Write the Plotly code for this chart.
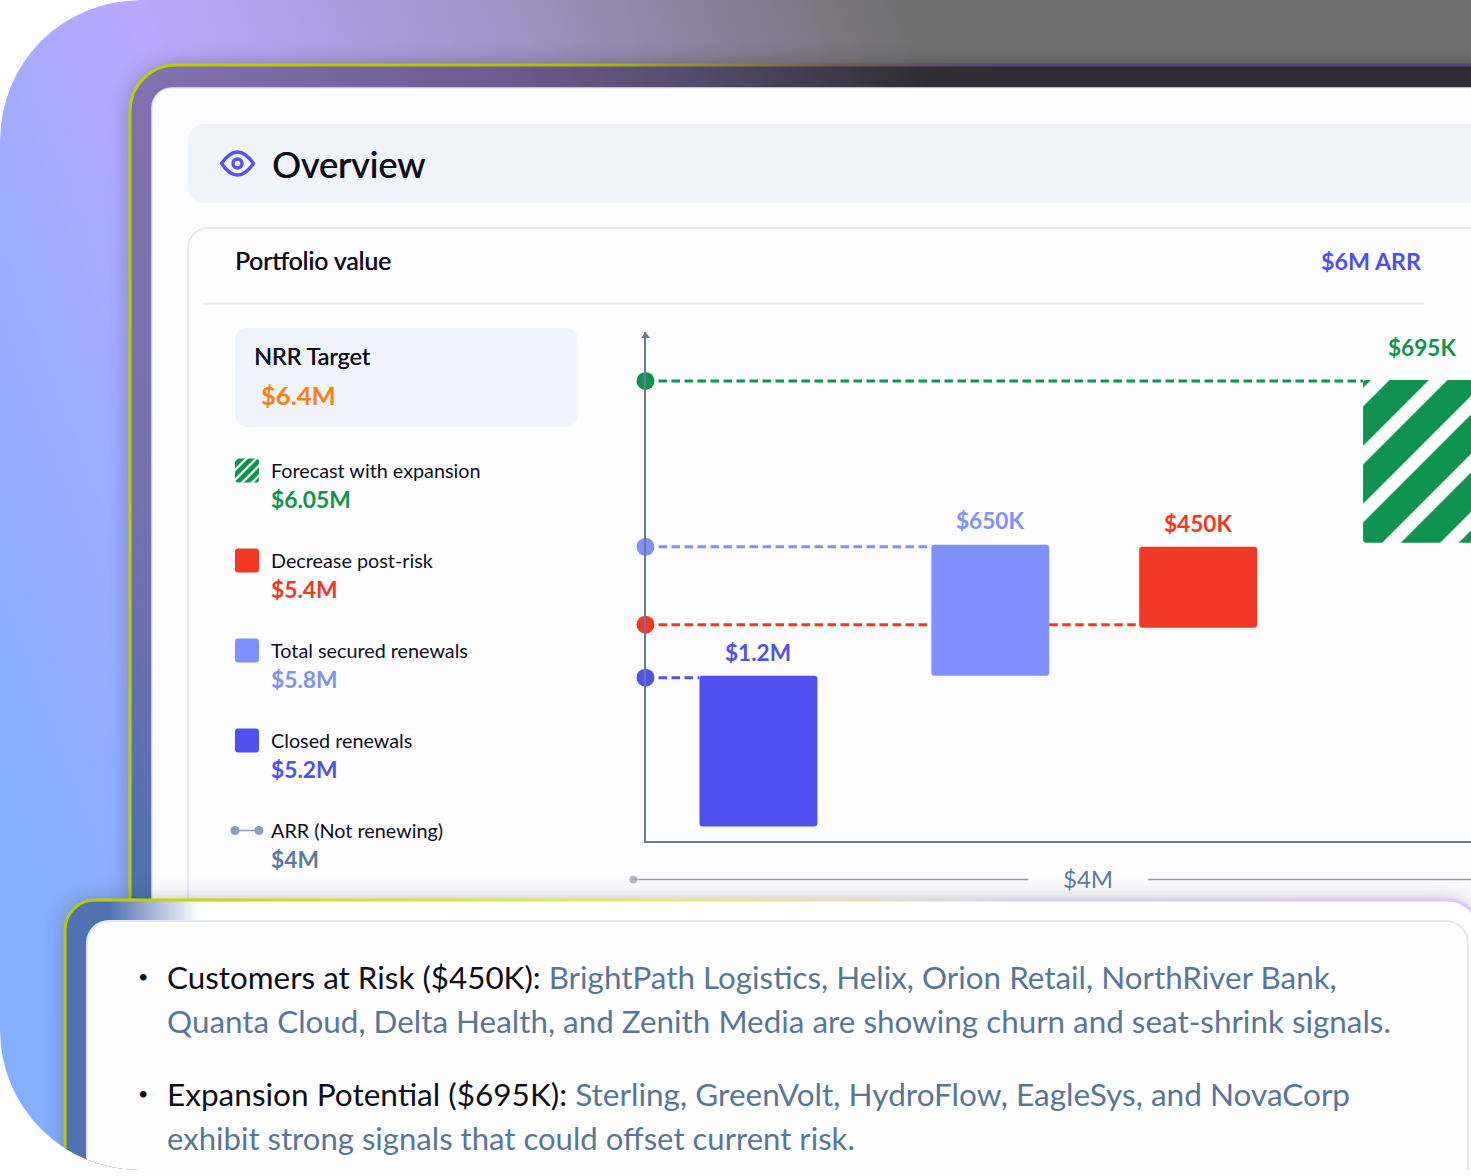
import base64
import plotly.graph_objects as go

W, H = 1471, 1176
FONT = "Lato"

# waterfall (axis has no scale, units are the plot height)
steps = ["Closed renewals", "Total secured renewals", "Decrease post-risk", "Forecast with expansion"]
bar_x = [113, 345, 553, 777]
bar_base = [14, 165, 213, 298]
bar_size = [151, 131, 81, 163]
bar_labels = ["$1.2M", "$650K", "$450K", "$695K"]
label_gap = [23, 24, 23, 32]
level_y = [163, 294, 216, 460]

# legend
legend_labels = ["Forecast with expansion", "Decrease post-risk", "Total secured renewals", "Closed renewals", "ARR (Not renewing)"]
legend_values = ["$6.05M", "$5.4M", "$5.8M", "$5.2M", "$4M"]
span_label = "$4M"
span_x = [-12, 383, None, 503, 826]
span_y = [0, 0, None, 0, 0]

GREEN, RED, LIGHT, BLUE, SLATE = "#0F934F", "#F03824", "#8090FF", "#5050EE", "#8E9DB3"
step_colors = [BLUE, LIGHT, RED, GREEN]
legend_colors = [GREEN, RED, LIGHT, BLUE, "#5F7A99"]
INK = "#0E0E1A"
GREY = "#5A7697"
AXIS = "#6B7A94"
BAR_W = 118


def rrect(x0, y0, x1, y1, r):
    return f'<rect x="{x0}" y="{y0}" width="{x1-x0}" height="{y1-y0}" rx="{r}" ry="{r}"'


# the frames behind the chart have gradients and soft shadows, plotly shapes can't do those
svg = f'''<svg xmlns="http://www.w3.org/2000/svg" width="{W}" height="{H}" viewBox="0 0 {W} {H}">
<defs>
<linearGradient id="o" gradientUnits="userSpaceOnUse" x1="0" y1="800" x2="1050" y2="400">
<stop offset="0" stop-color="#84AEFF"/><stop offset=".21" stop-color="#A0ACFF"/><stop offset=".37" stop-color="#BBA8FF"/>
<stop offset=".67" stop-color="#A392C4"/><stop offset="1" stop-color="#707070"/></linearGradient>
<linearGradient id="f" gradientUnits="userSpaceOnUse" x1="0" y1="800" x2="1050" y2="400">
<stop offset=".09" stop-color="#4E70AD"/><stop offset=".21" stop-color="#7671AF"/><stop offset=".346" stop-color="#8171B0"/>
<stop offset=".645" stop-color="#6E5B8E"/><stop offset=".8" stop-color="#544C6C"/><stop offset="1" stop-color="#2F2D33"/></linearGradient>
<linearGradient id="fb" gradientUnits="userSpaceOnUse" x1="130" y1="0" x2="1000" y2="0">
<stop offset="0" stop-color="#BCCF00"/><stop offset=".5" stop-color="#B0C010"/><stop offset=".8" stop-color="#6E6050"/><stop offset="1" stop-color="#53447F"/></linearGradient>
<linearGradient id="l" gradientUnits="userSpaceOnUse" x1="65" y1="0" x2="200" y2="0">
<stop offset="0" stop-color="#5073B0"/><stop offset=".33" stop-color="#5073B0"/><stop offset="1" stop-color="#FFFFFF"/></linearGradient>
<linearGradient id="lb" gradientUnits="userSpaceOnUse" x1="65" y1="0" x2="1300" y2="0">
<stop offset="0" stop-color="#B5CA00"/><stop offset=".2" stop-color="#CFE31A"/><stop offset=".5" stop-color="#E4EC80"/><stop offset=".8" stop-color="#DCD0FF"/><stop offset="1" stop-color="#D8C8FF"/></linearGradient>
<filter id="sh" x="-10%" y="-10%" width="120%" height="120%"><feGaussianBlur stdDeviation="11"/></filter>
<clipPath id="c">{rrect(0, 0, 1900, 1170, 140)}/></clipPath>
</defs>
<g clip-path="url(#c)">
{rrect(0, 0, 1900, 1174, 140)} fill="url(#o)"/>
{rrect(130, 65, 1900, 1400, 46)} fill="#000" opacity=".28" filter="url(#sh)"/>
{rrect(130, 65, 1900, 1400, 46)} fill="url(#f)" stroke="url(#fb)" stroke-width="3"/>
{rrect(152, 88, 1900, 1400, 20)} fill="#FDFDFF" stroke="#E4E7F3" stroke-width="1.5"/>
{rrect(188, 124, 1900, 203, 16)} fill="#F2F4FC"/>
{rrect(188, 228, 1900, 1400, 20)} fill="none" stroke="#E8EAF4" stroke-width="2"/>
<rect x="203" y="302.5" width="1221" height="2" fill="#E9E9F5"/>
{rrect(235, 328, 578, 427, 12)} fill="#F2F4FD"/>
<path d="M221.5,163.5 Q237.5,140.5 253.5,163.5 Q237.5,186.5 221.5,163.5 Z" fill="none" stroke="#5552EE" stroke-width="3.4" stroke-linejoin="round"/>
<circle cx="237.5" cy="163.5" r="4.5" fill="none" stroke="#5552EE" stroke-width="3.4"/>
{rrect(65, 900, 1478, 1500, 30)} fill="#2A2A3A" opacity=".3" filter="url(#sh)"/>
{rrect(65, 900, 1478, 1500, 30)} fill="url(#l)" stroke="url(#lb)" stroke-width="3"/>
{rrect(87, 921, 1468, 1500, 22)} fill="#FEFEFF" stroke="#E3E7F5" stroke-width="2"/>
</g></svg>'''
bg_src = "data:image/svg+xml;base64," + base64.b64encode(svg.encode()).decode()

fig = go.Figure()

# main bars
for i, name in enumerate(steps):
    marker = dict(color=step_colors[i], line=dict(width=0))
    if i == 3:
        marker["pattern"] = dict(shape="/", fgcolor=GREEN, bgcolor="#FDFDFF", size=41, solidity=0.68, fillmode="replace")
    fig.add_bar(x=[bar_x[i]], y=[bar_size[i]], base=[bar_base[i]], width=[BAR_W], marker=marker, name=name, showlegend=False)

# dashed levels out of the y axis, stop at the bar edges
left = [b - BAR_W / 2 for b in bar_x]
right = [b + BAR_W / 2 for b in bar_x]
level_paths = [
    [0, left[0]],
    [0, left[1]],
    [0, left[1], None, right[1], left[2]],
    [0, left[3]],
]
for i, xs in enumerate(level_paths):
    ys = [None if v is None else level_y[i] for v in xs]
    fig.add_scatter(x=xs, y=ys, mode="lines", line=dict(color=step_colors[i], width=3, dash="8.5px,4.5px"),
                    showlegend=False, hoverinfo="skip")
fig.add_scatter(x=[0, 0, 0, 0], y=level_y, mode="markers", marker=dict(color=step_colors, size=18),
                cliponaxis=False, showlegend=False, hoverinfo="skip")
# arrow head of y axis
fig.add_scatter(x=[0], y=[505], mode="markers", marker=dict(symbol="triangle-up", color=AXIS, size=8),
                cliponaxis=False, showlegend=False, hoverinfo="skip")
# $4M span under the axis, points outside the main range get hidden so it has its own axes
fig.add_scatter(x=span_x, y=span_y, mode="lines+markers", line=dict(color=SLATE, width=1.5),
                marker=dict(color=SLATE, size=[9, 0, 0, 0, 0]), xaxis="x3", yaxis="y3", cliponaxis=False,
                showlegend=False, hoverinfo="skip")

# legend swatches on their own little axes, row 0 on top
for i in range(4):
    marker = dict(color=legend_colors[i], line=dict(width=0))
    if i == 0:
        marker["pattern"] = dict(shape="/", fgcolor=GREEN, bgcolor="#FDFDFF", size=7, solidity=0.68, fillmode="replace")
    fig.add_bar(x=[0], y=[24 / 90], base=[i - 12 / 90], width=[24], marker=marker, xaxis="x2", yaxis="y2",
                showlegend=False, hoverinfo="skip")
fig.add_scatter(x=[-12, 12], y=[4, 4], mode="lines+markers", line=dict(color=SLATE, width=1.5),
                marker=dict(color=SLATE, size=9), xaxis="x2", yaxis="y2", cliponaxis=False,
                showlegend=False, hoverinfo="skip")

ann = []


def text(x, y, s, size, color=INK, weight=400, anchor="left", shadow="none"):
    ann.append(dict(x=x / W, y=1 - y / H, xref="paper", yref="paper", text=s, showarrow=False, xanchor=anchor,
                    yanchor="middle", borderpad=0,
                    font=dict(family=FONT, size=size, color=color, weight=weight, shadow=shadow)))


# Lato has no medium here, a hair of shadow thickens the headings
text(271, 164, "Overview", 36, shadow=f"0.6px 0 0 {INK}")
text(234, 261, "Portfolio value", 24.6, shadow=f"0.4px 0 0 {INK}")
text(1423, 261, "$6M ARR", 23.3, color=BLUE, weight=700, anchor="right")
text(253, 356, "NRR Target", 23.4, shadow=f"0.4px 0 0 {INK}")
text(260, 395, "$6.4M", 25.6, color="#FF7F11", weight=700)

for i, lab in enumerate(legend_labels):
    text(270, 470 + 90 * i, lab, 19.8)
    text(270, 499 + 90 * i, legend_values[i], 22.8, color=legend_colors[i], weight=700)

text(1088, 878, span_label, 24, color="#5F7A99", anchor="center")

# bar values
for i, lab in enumerate(bar_labels):
    ann.append(dict(x=bar_x[i], y=bar_base[i] + bar_size[i], xref="x", yref="y", text=lab, showarrow=False,
                    yshift=label_gap[i], yanchor="middle", borderpad=0,
                    font=dict(family=FONT, size=22.6, color=step_colors[i], weight=700)))

# notes in the lower card
text(143, 976, "•", 18, anchor="center")
text(143, 1093, "•", 18, anchor="center")
text(166, 977, f'Customers at Risk ($450K): <span style="color:{GREY}">BrightPath Logistics, Helix, Orion Retail, NorthRiver Bank,</span>', 31.4)
text(166, 1021, "Quanta Cloud, Delta Health, and Zenith Media are showing churn and seat-shrink signals.", 31.4, color=GREY)
text(166, 1094, f'Expansion Potential ($695K): <span style="color:{GREY}">Sterling, GreenVolt, HydroFlow, EagleSys, and NovaCorp</span>', 31.55)
text(166, 1138, "exhibit strong signals that could offset current risk.", 31.1, color=GREY)

axis_off = dict(visible=False, showgrid=False, zeroline=False)
fig.update_layout(
    width=W, height=H, margin=dict(l=0, r=0, t=0, b=0, pad=0),
    paper_bgcolor="white", plot_bgcolor="rgba(0,0,0,0)",
    barmode="overlay", barcornerradius=3, showlegend=False,
    xaxis=dict(domain=[645.5 / W, 1], range=[0, 826], showline=True, linecolor=AXIS, linewidth=1.5,
               showgrid=False, zeroline=False, showticklabels=False, ticks=""),
    yaxis=dict(domain=[1 - 840.5 / H, 1 - 332 / H], range=[0, 509], showline=True, linecolor=AXIS, linewidth=1.5,
               showgrid=False, zeroline=False, showticklabels=False, ticks=""),
    xaxis2=dict(domain=[225 / W, 269 / W], range=[-22, 22], anchor="y2", **axis_off),
    yaxis2=dict(domain=[1 - 875.5 / H, 1 - 425.5 / H], range=[4.5, -0.5], anchor="x2", **axis_off),
    xaxis3=dict(domain=[625.5 / W, 1], range=[-20, 826], anchor="y3", **axis_off),
    yaxis3=dict(domain=[1 - 889.5 / H, 1 - 869.5 / H], range=[-1, 1], anchor="x3", **axis_off),
    images=[dict(source=bg_src, xref="paper", yref="paper", x=0, y=1, sizex=1, sizey=1, xanchor="left", yanchor="top",
                 sizing="stretch", layer="below")],
    annotations=ann,
)

fig.write_html("out.html", config=dict(displayModeBar=False), post_script="document.body.style.margin='0';")
